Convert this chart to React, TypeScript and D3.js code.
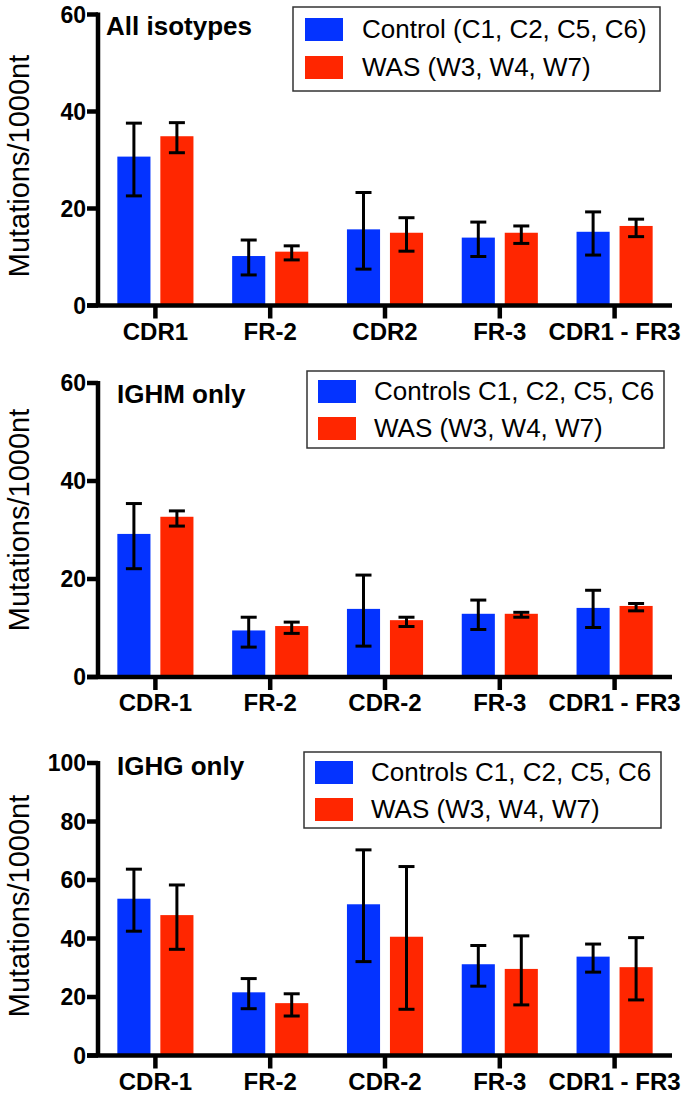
import React from "react";
import * as d3 from "d3";

const W = 686;
const H = 1098;

const BLUE = "#0433ff";
const RED = "#ff2600";

// category labels per panel
const catsAll = ["CDR1", "FR-2", "CDR2", "FR-3", "CDR1 - FR3"];
const catsIg = ["CDR-1", "FR-2", "CDR-2", "FR-3", "CDR1 - FR3"];

// All isotypes
const allCtrlMean = [30.7, 10.2, 15.7, 14.0, 15.2];
const allCtrlLow = [22.6, 6.3, 7.5, 10.1, 10.4];
const allCtrlHigh = [37.6, 13.5, 23.3, 17.2, 19.3];
const allWasMean = [34.9, 11.1, 15.0, 15.0, 16.4];
const allWasLow = [31.5, 9.4, 11.2, 12.8, 14.2];
const allWasHigh = [37.7, 12.3, 18.1, 16.4, 17.8];

// IGHM only
const ighmCtrlMean = [29.2, 9.5, 13.9, 12.9, 14.1];
const ighmCtrlLow = [22.1, 6.1, 6.3, 9.7, 10.1];
const ighmCtrlHigh = [35.4, 12.2, 20.8, 15.7, 17.7];
const ighmWasMean = [32.7, 10.4, 11.6, 12.9, 14.5];
const ighmWasLow = [30.8, 8.9, 10.3, 12.2, 13.5];
const ighmWasHigh = [33.9, 11.2, 12.2, 13.2, 15.0];

// IGHG only
const ighgCtrlMean = [53.6, 21.6, 51.7, 31.2, 33.8];
const ighgCtrlLow = [42.5, 16.0, 32.1, 23.7, 28.5];
const ighgCtrlHigh = [63.7, 26.3, 70.3, 37.6, 38.1];
const ighgWasMean = [48.0, 17.9, 40.6, 29.6, 30.2];
const ighgWasLow = [36.3, 13.5, 15.8, 17.3, 19.0];
const ighgWasHigh = [58.3, 21.1, 64.6, 40.9, 40.3];

const ticks60 = [0, 20, 40, 60];
const ticks100 = [0, 20, 40, 60, 80, 100];

const legendCtrlAll = "Control (C1, C2, C5, C6)";
const legendCtrlIg = "Controls C1, C2, C5, C6";
const legendWas = "WAS (W3, W4, W7)";

interface Series {
  name: string;
  color: string;
  mean: number[];
  low: number[];
  high: number[];
}

interface PanelProps {
  title: string;
  cats: string[];
  series: Series[];
  yMax: number;
  yTicks: number[];
  y0: number;
  yTop: number;
  titleX: number;
  titleDy: number;
  labelY: number;
  legend: { x: number; y: number; w: number; h: number; sx: number; tx: number; rows: number[] };
}

const FONT = "'Liberation Sans', Arial, Helvetica, sans-serif";
const axisX = 98;
const axisRight = 672;

const Panel: React.FC<PanelProps> = ({
  title,
  cats,
  series,
  yMax,
  yTicks,
  y0,
  yTop,
  titleX,
  titleDy,
  labelY,
  legend,
}) => {
  const x = d3.scaleBand<string>().domain(cats).range([axisX, axisRight]);
  const inner = d3
    .scaleBand<string>()
    .domain(series.map((s) => s.name))
    .range([0, x.bandwidth()])
    .paddingInner(0.23)
    .paddingOuter(0.45);
  const y = d3.scaleLinear().domain([0, yMax]).range([y0, yTop]);
  const capW = 16;

  return (
    <g>
      {/* bars */}
      {series.map((s) =>
        cats.map((c, i) => {
          const bx = (x(c) ?? 0) + (inner(s.name) ?? 0);
          return (
            <rect
              key={`${s.name}-${c}`}
              x={bx}
              y={y(s.mean[i])}
              width={inner.bandwidth()}
              height={y0 - y(s.mean[i])}
              fill={s.color}
            />
          );
        })
      )}
      {/* error bars */}
      {series.map((s) =>
        cats.map((c, i) => {
          const cx = (x(c) ?? 0) + (inner(s.name) ?? 0) + inner.bandwidth() / 2;
          const yl = y(s.low[i]);
          const yh = y(s.high[i]);
          return (
            <g key={`e-${s.name}-${c}`} stroke="#000" strokeWidth={3}>
              <line x1={cx} x2={cx} y1={yl} y2={yh} />
              <line x1={cx - capW / 2} x2={cx + capW / 2} y1={yh} y2={yh} />
              <line x1={cx - capW / 2} x2={cx + capW / 2} y1={yl} y2={yl} />
            </g>
          );
        })
      )}
      {/* y axis */}
      <line x1={axisX} x2={axisX} y1={y0} y2={yTop - 2} stroke="#000" strokeWidth={4.5} />
      {yTicks.map((t) => (
        <g key={`yt-${t}`}>
          <line x1={axisX - 11} x2={axisX} y1={y(t)} y2={y(t)} stroke="#000" strokeWidth={4.5} />
          <text
            x={axisX - 12}
            y={y(t) + 8}
            textAnchor="end"
            fontFamily={FONT}
            fontWeight="bold"
            fontSize={23}
          >
            {t}
          </text>
        </g>
      ))}
      {/* x axis */}
      <line x1={axisX - 11} x2={axisRight} y1={y0} y2={y0} stroke="#000" strokeWidth={4.5} />
      {cats.map((c) => {
        const cx = (x(c) ?? 0) + x.bandwidth() / 2;
        return (
          <g key={`xt-${c}`}>
            <line x1={cx} x2={cx} y1={y0} y2={y0 + 13} stroke="#000" strokeWidth={4.5} />
            <text
              x={cx}
              y={y0 + 34}
              textAnchor="middle"
              fontFamily={FONT}
              fontWeight="bold"
              fontSize={24}
            >
              {c}
            </text>
          </g>
        );
      })}
      {/* axis label */}
      <text
        transform={`translate(29,${labelY}) rotate(-90)`}
        textAnchor="middle"
        fontFamily={FONT}
        fontSize={29}
      >
        Mutations/1000nt
      </text>
      {/* title */}
      <text x={titleX} y={yTop + titleDy} fontFamily={FONT} fontWeight="bold" fontSize={26}>
        {title}
      </text>
      {/* legend */}
      <rect
        x={legend.x}
        y={legend.y}
        width={legend.w}
        height={legend.h}
        fill="#fff"
        stroke="#333"
        strokeWidth={1.5}
      />
      {series.map((s, i) => (
        <g key={`lg-${s.name}`}>
          <rect x={legend.sx} y={legend.rows[i]} width={38} height={23} fill={s.color} />
          <text
            x={legend.tx}
            y={legend.rows[i] + 20}
            fontFamily={FONT}
            fontSize={26}
          >
            {s.name}
          </text>
        </g>
      ))}
    </g>
  );
};

const App: React.FC = () => {
  return (
    <div style={{ position: "absolute", left: 0, top: 0, width: W, height: H, background: "#fff" }}>
      <svg width={W} height={H} viewBox={`0 0 ${W} ${H}`}>
        <rect width={W} height={H} fill="#fff" />
        <Panel
          title="All isotypes"
          cats={catsAll}
          series={[
            { name: legendCtrlAll, color: BLUE, mean: allCtrlMean, low: allCtrlLow, high: allCtrlHigh },
            { name: legendWas, color: RED, mean: allWasMean, low: allWasLow, high: allWasHigh },
          ]}
          yMax={60}
          yTicks={ticks60}
          y0={305.5}
          yTop={14.5}
          titleX={106}
          titleDy={20.5}
          labelY={166}
          legend={{ x: 293, y: 7, w: 367, h: 84, sx: 305, tx: 362, rows: [18, 56] }}
        />
        <Panel
          title="IGHM only"
          cats={catsIg}
          series={[
            { name: legendCtrlIg, color: BLUE, mean: ighmCtrlMean, low: ighmCtrlLow, high: ighmCtrlHigh },
            { name: legendWas, color: RED, mean: ighmWasMean, low: ighmWasLow, high: ighmWasHigh },
          ]}
          yMax={60}
          yTicks={ticks60}
          y0={677}
          yTop={383}
          titleX={117}
          titleDy={20}
          labelY={520}
          legend={{ x: 307, y: 371, w: 357, h: 77, sx: 318, tx: 374, rows: [380, 417] }}
        />
        <Panel
          title="IGHG only"
          cats={catsIg}
          series={[
            { name: legendCtrlIg, color: BLUE, mean: ighgCtrlMean, low: ighgCtrlLow, high: ighgCtrlHigh },
            { name: legendWas, color: RED, mean: ighgWasMean, low: ighgWasLow, high: ighgWasHigh },
          ]}
          yMax={100}
          yTicks={ticks100}
          y0={1055.5}
          yTop={763}
          titleX={117}
          titleDy={12}
          labelY={906}
          legend={{ x: 304, y: 752, w: 357, h: 76, sx: 315, tx: 371, rows: [761, 798] }}
        />
      </svg>
    </div>
  );
};

export default App;
